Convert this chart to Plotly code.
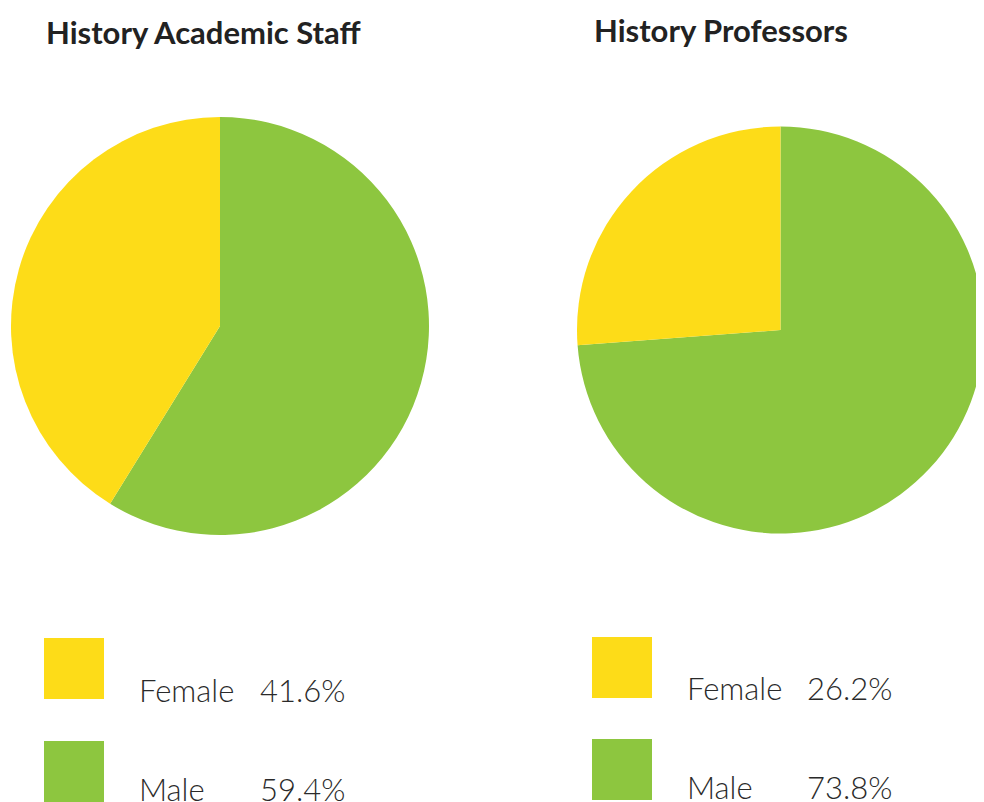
import plotly.graph_objects as go

OFF = 8
W, H = 984 - OFF, 802 - OFF

categories = ["Female", "Male"]
staff_values = [41.6, 59.4]
prof_values = [26.2, 73.8]
staff_labels = ["41.6%", "59.4%"]
prof_labels = ["26.2%", "73.8%"]
titles = ["History Academic Staff", "History Professors"]
colors = ["#FDDC18", "#8DC63F"]

def px(x):
    return min(1.0, max(0.0, (x - OFF) / W))

def py(y):
    return min(1.0, max(0.0, 1 - (y - OFF) / H))

fig = go.Figure()

# Male drawn first clockwise from 12 o'clock so Female sits on the left side
for vals, dom in [(staff_values, dict(x=[px(11), px(429)], y=[py(535), py(117)])),
                  (prof_values, dict(x=[px(577), 1.0], y=[py(539), py(121)]))]:
    fig.add_trace(go.Pie(
        labels=categories[::-1], values=vals[::-1], sort=False, direction="clockwise",
        rotation=0, marker=dict(colors=colors[::-1], line=dict(width=0)), textinfo="none",
        hoverinfo="label+value", showlegend=False, domain=dom,
    ))

font_main = "Lato, 'Open Sans', sans-serif"
annotations = []
shapes = []

# titles
for t, x, y in [(titles[0], 44, 32), (titles[1], 592, 30)]:
    annotations.append(dict(text=f"<b>{t}</b>", x=px(x), y=py(y), xref="paper", yref="paper",
                            xanchor="left", yanchor="middle", showarrow=False,
                            font=dict(family=font_main, size=31, color="#222222")))

# legends
legend_sets = [
    (44, 137, 258, [(638, 690), (741, 789)], staff_labels),
    (592, 685, 805, [(637, 688), (739, 787)], prof_labels),
]
for sx, tx, vx, rows, vals in legend_sets:
    for i, ((top, ty), val) in enumerate(zip(rows, vals)):
        shapes.append(dict(type="rect", xref="paper", yref="paper",
                           x0=px(sx), x1=px(sx + 60), y0=py(top + 61), y1=py(top),
                           fillcolor=colors[i], line=dict(width=0)))
        for txt, xx in [(categories[i], tx), (val, vx)]:
            annotations.append(dict(text=txt, x=px(xx), y=py(ty), xref="paper", yref="paper",
                                    xanchor="left", yanchor="middle", showarrow=False,
                                    font=dict(family=font_main, size=31, color="#2a2a2a", weight=300)))

fig.update_layout(
    width=W, height=H, margin=dict(l=0, r=0, t=0, b=0),
    paper_bgcolor="white", plot_bgcolor="white",
    annotations=annotations, shapes=shapes,
)

fig.write_html("out.html")
